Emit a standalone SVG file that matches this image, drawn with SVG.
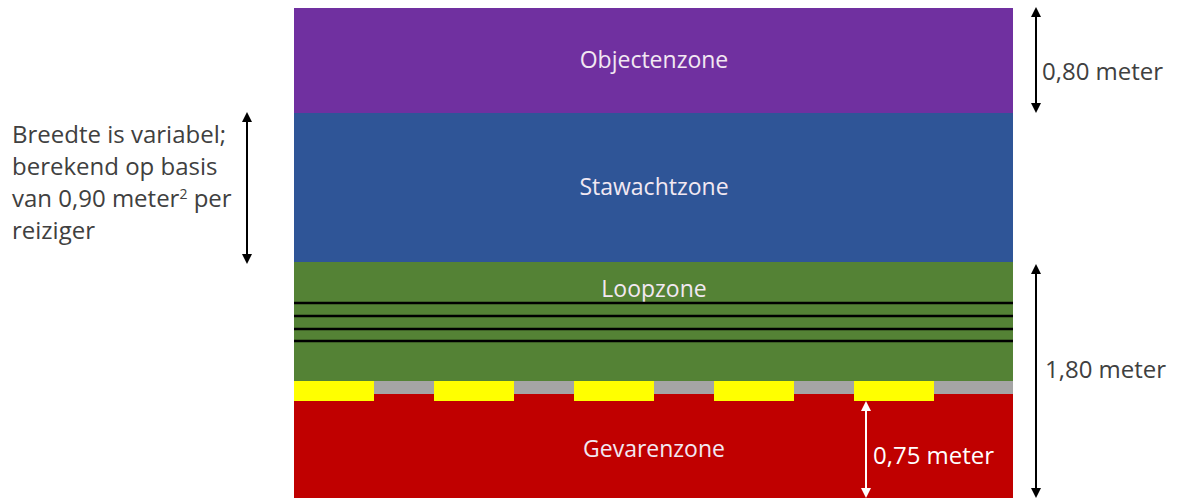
<svg xmlns="http://www.w3.org/2000/svg" width="1177" height="501" viewBox="0 0 1177 501">
<style>
.zl{font-family:"Open Sans","Liberation Sans",sans-serif;font-size:23px;fill:#f2e8f2;text-anchor:middle}
.lb{font-family:"Open Sans","Liberation Sans",sans-serif;font-size:24px;fill:#404040}
.ar{stroke:#000;stroke-width:2;fill:none;marker-start:url(#ab);marker-end:url(#ae)}
.aw{stroke:#fff;stroke-width:2;fill:none;marker-start:url(#wb);marker-end:url(#we)}
.ln{stroke:#000;stroke-width:2.5}
</style>
<defs>
<marker id="ae" markerWidth="10" markerHeight="10" refX="8" refY="5" orient="auto" markerUnits="userSpaceOnUse"><path d="M0,0 L10,5 L0,10 z" fill="#000"/></marker>
<marker id="ab" markerWidth="10" markerHeight="10" refX="2" refY="5" orient="auto" markerUnits="userSpaceOnUse"><path d="M10,0 L0,5 L10,10 z" fill="#000"/></marker>
<marker id="we" markerWidth="10" markerHeight="10" refX="8" refY="5" orient="auto" markerUnits="userSpaceOnUse"><path d="M0,0 L10,5 L0,10 z" fill="#fff"/></marker>
<marker id="wb" markerWidth="10" markerHeight="10" refX="2" refY="5" orient="auto" markerUnits="userSpaceOnUse"><path d="M10,0 L0,5 L10,10 z" fill="#fff"/></marker>
</defs>
<rect width="1177" height="501" fill="#fff"/>
<g id="objectenzone">
<rect x="294" y="8" width="719" height="106" fill="#7030A0"/>
<text class="zl" x="654" y="68">Objectenzone</text>
</g>
<g id="stawachtzone">
<rect x="294" y="113" width="719" height="150" fill="#2F5597"/>
<text class="zl" x="654" y="195">Stawachtzone</text>
</g>
<g id="loopzone">
<rect x="294" y="262" width="719" height="120" fill="#548235"/>
<text class="zl" x="654" y="297">Loopzone</text>
<line class="ln" x1="294" y1="303" x2="1013" y2="303"/>
<line class="ln" x1="294" y1="316" x2="1013" y2="316"/>
<line class="ln" x1="294" y1="329" x2="1013" y2="329"/>
<line class="ln" x1="294" y1="341" x2="1013" y2="341"/>
</g>
<g id="gevarenzone">
<rect x="294" y="381" width="719" height="14" fill="#A5A5A5"/>
<rect x="294" y="394" width="719" height="104" fill="#C00000"/>
<rect x="294" y="381" width="80" height="20" fill="#FFFF00"/>
<rect x="434" y="381" width="80" height="20" fill="#FFFF00"/>
<rect x="574" y="381" width="80" height="20" fill="#FFFF00"/>
<rect x="714" y="381" width="80" height="20" fill="#FFFF00"/>
<rect x="854" y="381" width="80" height="20" fill="#FFFF00"/>
<text class="zl" x="654" y="457">Gevarenzone</text>
</g>
<g id="connectors">
<line class="ar" x1="1036" y1="9" x2="1036" y2="111"/>
<line class="ar" x1="1036" y1="266" x2="1036" y2="496"/>
<line class="ar" x1="247" y1="114" x2="247" y2="262"/>
<line class="aw" x1="866" y1="403" x2="866" y2="496"/>
</g>
<g id="labels">
<text class="lb" x="1042" y="80">0,80 meter</text>
<text class="lb" x="1045" y="378">1,80 meter</text>
<text class="lb" x="873" y="464" style="fill:#fff">0,75 meter</text>
<text class="lb" x="12" y="143">Breedte is variabel;</text>
<text class="lb" x="12" y="175">berekend op basis</text>
<text class="lb" x="12" y="207">van 0,90 meter<tspan dy="-8" font-size="14">2</tspan><tspan dy="8"> per</tspan></text>
<text class="lb" x="12" y="239">reiziger</text>
</g>
</svg>
